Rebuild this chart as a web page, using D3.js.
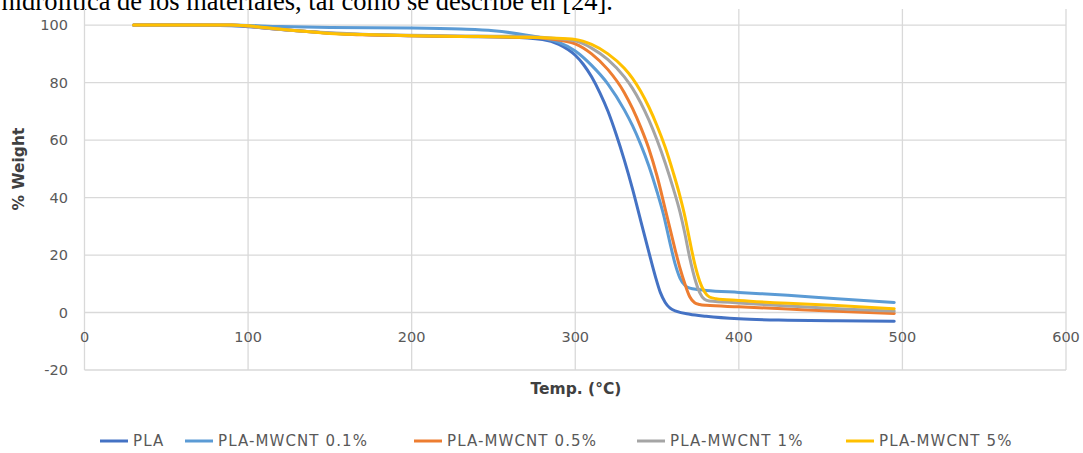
<!DOCTYPE html>
<html><head><meta charset="utf-8">
<script src="https://cdn.jsdelivr.net/npm/d3@7/dist/d3.min.js"></script>
<style>
html,body{margin:0;padding:0;background:#fff;}
svg{display:block;}
</style></head>
<body>
<svg id="chart" width="1083" height="453"></svg>
<script>
// ---- data (temperature °C, % weight) ----
const seriesNames = ["PLA", "PLA-MWCNT 0.1%", "PLA-MWCNT 0.5%", "PLA-MWCNT 1%", "PLA-MWCNT 5%"];
const seriesColors = ["#4472C4", "#5B9BD5", "#ED7D31", "#A5A5A5", "#FFC000"];
const xTicks = [0, 100, 200, 300, 400, 500, 600];
const yTicks = [-20, 0, 20, 40, 60, 80, 100];
const xTitle = "Temp. (°C)";
const yTitle = "% Weight";
const pageText = "hidrolítica de los materiales, tal como se describe en [24].";

const pla = [[30,100],[60,100],[90,99.8],[110,99],[130,98],[150,97.2],[170,96.7],[200,96.3],[230,96],[260,95.8],[280,95],[290,93.3],[300,89.5],[305,86.3],[310,82],[315,76.5],[320,70],[325,62],[330,53],[335,43],[340,32],[345,21],[349,12.5],[352,7],[355,3.5],[358,1.5],[362,0.4],[370,-0.6],[380,-1.3],[400,-2.2],[430,-2.7],[460,-2.9],[495,-3]];
const mw01 = [[30,100],[90,100],[120,99.5],[150,99.2],[200,99],[230,98.6],[250,98],[265,97],[280,95.5],[290,94],[300,91],[310,86],[320,79.5],[330,70.5],[335,65],[340,58.5],[345,51],[350,42],[354,34],[358,24],[361,17],[364,12],[367,9.5],[370,8.5],[375,8],[380,7.7],[400,7],[430,6],[460,4.8],[495,3.5]];
const mw05 = [[30,100],[90,100],[110,99],[130,98],[150,97.2],[170,96.6],[200,96.3],[240,96],[270,95.8],[285,95.2],[300,93.5],[310,90],[320,84.5],[330,76.5],[335,71],[340,64.5],[345,57],[350,47.5],[355,36],[358,29],[361,22],[364,15.5],[367,10],[370,5.5],[373,3.4],[376,2.8],[380,2.5],[400,2],[430,1.2],[460,0.4],[495,-0.3]];
const mw1 = [[30,100],[90,100],[110,99],[130,98],[150,97.3],[170,96.8],[200,96.5],[240,96.2],[270,96],[285,95.5],[300,94.5],[310,92],[320,88],[330,82],[335,78],[340,73],[345,67],[350,60],[355,52],[360,43],[364,35],[367,27.5],[370,19],[373,12],[376,7],[379,4.6],[382,4],[390,3.7],[400,3.3],[430,2.3],[460,1.3],[495,0.5]];
const mw5 = [[30,100],[90,100],[110,99.2],[130,98],[150,97.1],[170,96.7],[200,96.3],[240,96],[270,95.8],[285,95.5],[300,95],[310,93.3],[320,90],[330,85],[335,81.5],[340,77],[345,71.5],[350,65],[355,57.5],[360,48.5],[364,40.5],[367,33.5],[370,25],[373,17],[376,11],[379,7.2],[382,5.4],[386,4.8],[400,4.2],[430,3.2],[460,2.4],[495,1.3]];
const seriesData = [pla, mw01, mw05, mw1, mw5];

// ---- layout ----
const svg = d3.select("#chart");
const x = d3.scaleLinear().domain([0, 600]).range([84.5, 1066]);
const y = d3.scaleLinear().domain([-20, 105.6]).range([370, 9]);
const font = "'DejaVu Sans', sans-serif";
const labelColor = "#595959";

// page text cut at top
svg.append("text").attr("x", 613).attr("y", 10).attr("text-anchor", "end")
  .attr("font-family", "'Liberation Serif', 'Times New Roman', serif").attr("font-size", 26.5)
  .attr("fill", "#000").text(pageText);

// gridlines
const grid = svg.append("g").attr("stroke", "#d9d9d9").attr("stroke-width", 1.3);
grid.selectAll("line.h").data(yTicks).join("line")
  .attr("x1", x(0)).attr("x2", x(600)).attr("y1", d => y(d)).attr("y2", d => y(d));
grid.selectAll("line.v").data(xTicks).join("line")
  .attr("y1", y.range()[1]).attr("y2", y(-20)).attr("x1", d => x(d)).attr("x2", d => x(d));

// tick labels
svg.append("g").selectAll("text").data(yTicks).join("text")
  .attr("x", 68).attr("y", d => y(d)).attr("dy", "0.35em").attr("text-anchor", "end")
  .attr("font-family", font).attr("font-size", 14.5).attr("fill", labelColor).text(d => d);
svg.append("g").selectAll("text").data(xTicks).join("text")
  .attr("x", d => x(d)).attr("y", 337).attr("dy", "0.35em").attr("text-anchor", "middle")
  .attr("font-family", font).attr("font-size", 14.5).attr("fill", labelColor).text(d => d);

// axis titles
svg.append("text").attr("transform", "translate(19,169) rotate(-90)").attr("text-anchor", "middle")
  .attr("dy", "0.35em").attr("font-family", font).attr("font-weight", "bold").attr("font-size", 15.5)
  .attr("fill", "#404040").text(yTitle);
svg.append("text").attr("x", 576).attr("y", 389).attr("dy", "0.35em").attr("text-anchor", "middle")
  .attr("font-family", font).attr("font-weight", "bold").attr("font-size", 15.5)
  .attr("fill", "#404040").text(xTitle);

// lines
const line = d3.line().x(d => x(d[0])).y(d => y(d[1])).curve(d3.curveMonotoneX);
svg.append("g").selectAll("path").data(seriesData).join("path")
  .attr("d", line).attr("fill", "none")
  .attr("stroke", (d, i) => seriesColors[i]).attr("stroke-width", 3)
  .attr("stroke-linejoin", "round").attr("stroke-linecap", "round");

// legend
const legendX = [100, 185, 414, 637, 846];
const lg = svg.append("g").selectAll("g").data(seriesNames).join("g")
  .attr("transform", (d, i) => `translate(${legendX[i]},441)`);
lg.append("line").attr("x1", 0).attr("x2", 28).attr("y1", 0).attr("y2", 0)
  .attr("stroke", (d, i) => seriesColors[i]).attr("stroke-width", 3);
lg.append("text").attr("x", 33).attr("y", 0).attr("dy", "0.35em")
  .attr("font-family", font).attr("font-size", 15).attr("letter-spacing", 1.1)
  .attr("fill", labelColor).text(d => d);
</script>
</body></html>
